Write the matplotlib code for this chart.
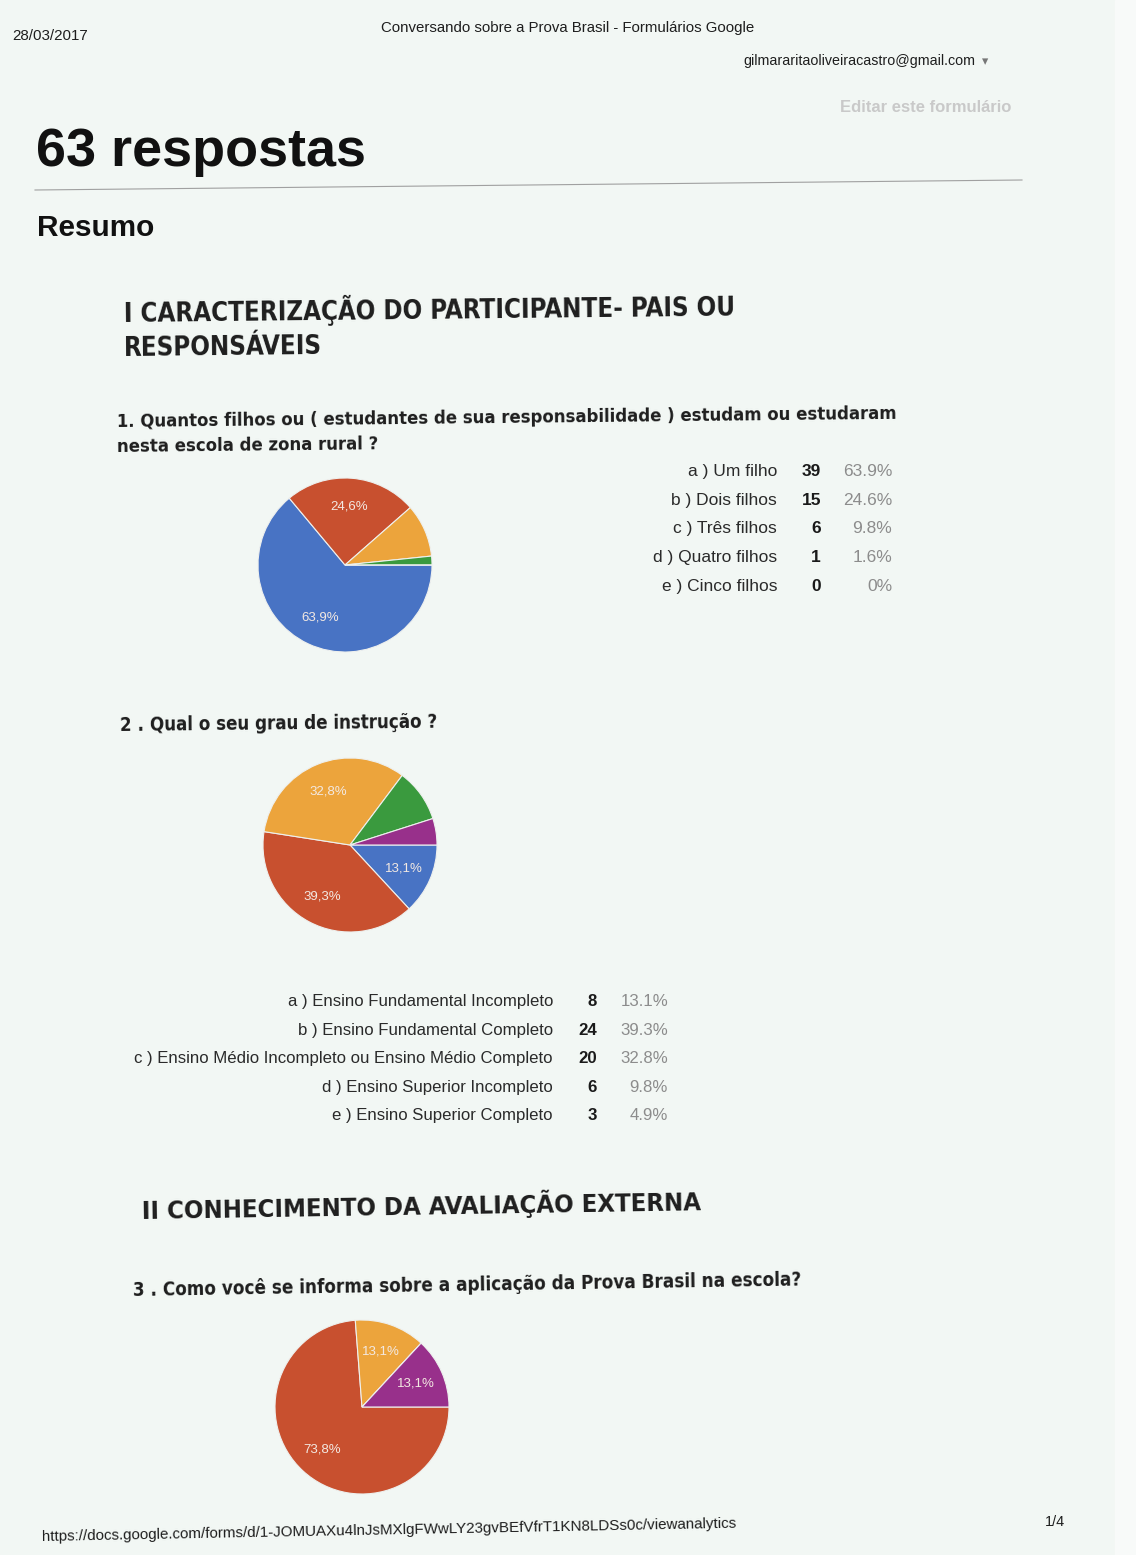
#!/usr/bin/env python3
"""Scanned Google Forms summary page: three pie charts with response tables."""
import matplotlib
matplotlib.use("Agg")
import matplotlib.pyplot as plt
from matplotlib import font_manager as fm
from matplotlib.lines import Line2D
from matplotlib.patches import Rectangle

W, H = 1136, 1555
BG = "#f2f7f4"
INK = "#1e1e1e"; GRAY = "#8c8c8c"; LIGHT = "#c9c9c9"
PAL = ["#4873c4", "#c8502f", "#eca43c", "#3a9a3e", "#98308b"]

plt.rcParams["font.family"] = ["Liberation Sans", "DejaVu Sans"]

# headings in the scan are a narrow grotesque; use one if the box has it
_fonts = fm.fontManager.ttflist
HEAD = dict(family=["Liberation Sans", "DejaVu Sans"])
if any(f.name == "Liberation Sans Narrow" for f in _fonts):
    HEAD = dict(family=["Liberation Sans Narrow", "DejaVu Sans"])
elif any(f.name == "DejaVu Sans" and f.stretch == "condensed" and f.weight in ("bold", 700) for f in _fonts):
    HEAD = dict(family=["DejaVu Sans"], fontstretch="condensed")

# Q1 - how many children at the school
q1_labels = ["a ) Um filho", "b ) Dois filhos", "c ) Três filhos", "d ) Quatro filhos", "e ) Cinco filhos"]
q1_counts = [39, 15, 6, 1, 0]
q1_pcts = ["63.9%", "24.6%", "9.8%", "1.6%", "0%"]

# Q2 - education level
q2_labels = ["a ) Ensino Fundamental Incompleto", "b ) Ensino Fundamental Completo",
             "c ) Ensino Médio Incompleto ou Ensino Médio Completo",
             "d ) Ensino Superior Incompleto", "e ) Ensino Superior Completo"]
q2_counts = [8, 24, 20, 6, 3]
q2_pcts = ["13.1%", "39.3%", "32.8%", "9.8%", "4.9%"]

# Q3 - only the pie is on this page
q3_counts = [0, 45, 8, 0, 8]

TILT = 0.6

fig = plt.figure(figsize=(W / 100, H / 100), dpi=100)
fig.patch.set_facecolor(BG)
fig.patches.append(Rectangle((1115 / W, 0), 21 / W, 1, transform=fig.transFigure,
                             color="#f8faf9", zorder=0))
rend = fig.canvas.get_renderer()


def put(x, y, s, size, width=None, rot=0, **kw):
    kw.setdefault("color", INK)
    t = fig.text(x / W, 1 - y / H, s, fontsize=size, va="baseline",
                 rotation=rot, rotation_mode="anchor", **kw)
    if width:
        w = t.get_window_extent(rend).width
        t.set_fontsize(size * width / w)
    return t


def pie_at(cx, cy, vals, r=87):
    box = 2 * r + 24
    ax = fig.add_axes([(cx - box / 2) / W, 1 - (cy + box / 2) / H, box / W, box / H])
    ax.pie(vals, colors=PAL, startangle=0, counterclock=False, radius=2 * r / box,
           autopct=lambda p: f"{p:.1f}%".replace(".", ",") if p > 10 else "",
           pctdistance=0.67,
           wedgeprops=dict(edgecolor="#eef0ee", linewidth=0.8),
           textprops=dict(color="#f3e9e2", fontsize=9.5))
    ax.set_xlim(-1, 1); ax.set_ylim(-1, 1); ax.set_aspect("equal")
    ax.axis("off")
    return ax


def table(rows_y, step, labels, counts, pcts, xl, xc, xp, size=12.5):
    for i, (lab, c, p) in enumerate(zip(labels, counts, pcts)):
        y = rows_y + i * step
        put(xl, y, lab, size, ha="right", color="#2a2a2a")
        put(xc, y, str(c), size, ha="right", fontweight="bold", color="#1a1a1a")
        put(xp, y, p, size, ha="right", color=GRAY)


# page header
put(12, 40, "28/03/2017", 10, width=76)
put(381, 32, "Conversando sobre a Prova Brasil - Formulários Google", 10, width=376)
put(743, 65, "gilmararitaoliveiracastro@gmail.com", 10, width=232)
put(982, 65, "▾", 9, color="#777777")
put(840, 112, "Editar este formulário", 11.5, width=173, color=LIGHT, fontweight="bold")

put(36, 166, "63 respostas", 38, width=329, fontweight="bold", color="#111111")
fig.add_artist(Line2D([35 / W, 1022 / W], [1 - 190 / H, 1 - 180 / H], color="#a0a0a0", lw=0.8))
put(37, 236, "Resumo", 21, width=117, fontweight="bold", color="#111111")

# section I
t = put(124, 322, "I CARACTERIZAÇÃO DO PARTICIPANTE- PAIS OU", 18, width=611, rot=TILT,
        fontweight="bold", **HEAD)
put(124, 356, "RESPONSÁVEIS", t.get_fontsize(), rot=TILT, fontweight="bold", **HEAD)

t = put(117, 427, "1. Quantos filhos ou ( estudantes de sua responsabilidade ) estudam ou estudaram",
        14, width=786, rot=TILT, fontweight="bold", **HEAD)
put(117, 452, "nesta escola de zona rural ?", t.get_fontsize(), rot=TILT,
    fontweight="bold", **HEAD)

pie_at(345, 565, q1_counts)
table(476, 28.7, q1_labels, q1_counts, q1_pcts, 777, 821, 892)

put(120, 731, "2 . Qual o seu grau de instrução ?", 14, width=321, rot=TILT,
    fontweight="bold", **HEAD)
pie_at(350, 845, q2_counts)
table(1006, 28.6, q2_labels, q2_counts, q2_pcts, 553, 597, 668, size=12.1)

# section II
put(142, 1219, "II CONHECIMENTO DA AVALIAÇÃO EXTERNA", 18, width=558, rot=0.9,
    fontweight="bold", **HEAD)
put(133, 1296, "3 . Como você se informa sobre a aplicação da Prova Brasil na escola?", 14,
    width=672, rot=0.9, fontweight="bold", **HEAD)
pie_at(362, 1407, q3_counts)

# footer
put(42, 1541, "https://docs.google.com/forms/d/1-JOMUAXu4lnJsMXlgFWwLY23gvBEfVfrT1KN8LDSs0c/viewanalytics",
    10, width=695, rot=1.1)
put(1045, 1526, "1/4", 10, width=20)

fig.savefig("out.png", dpi=100, facecolor=BG)
